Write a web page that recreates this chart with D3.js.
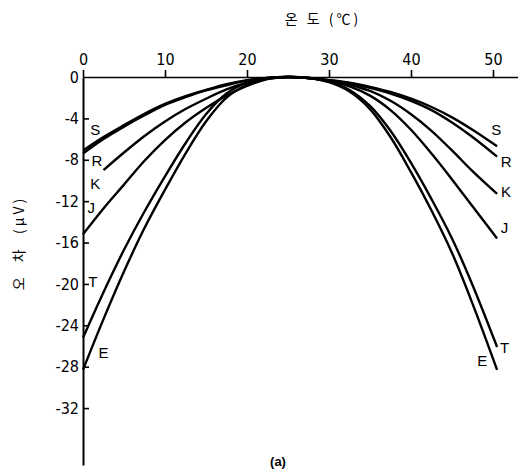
<!DOCTYPE html>
<html>
<head>
<meta charset="utf-8">
<script src="https://cdnjs.cloudflare.com/ajax/libs/d3/7.8.5/d3.min.js"></script>
<style>
body { margin: 0; background: #fff; }
.tick text { font-family: "Liberation Sans Narrow", "DejaVu Sans Condensed", "Liberation Sans", sans-serif; font-size: 16px; fill: #000; }
.lbl { font-family: "Liberation Sans", "DejaVu Sans", sans-serif; font-size: 15px; fill: #000; }
.kor { font-family: "Noto Sans CJK KR", sans-serif; font-size: 14px; fill: #000; }
</style>
</head>
<body>
<div id="main_div"></div>
<script>
// temperature (°C) and error (µV) for each thermocouple type
var temps = [0, 2.5, 5, 7.5, 10, 12.5, 15, 17.5, 20, 22.5, 25, 27.5, 30, 32.5, 35, 37.5, 40, 42.5, 45, 47.5, 50.5];
var err_S = [-7.1, -5.8, -4.65, -3.55, -2.6, -1.85, -1.25, -0.7, -0.3, -0.08, 0, -0.1, -0.3, -0.55, -0.95, -1.45, -2.1, -2.9, -3.9, -5.1, -6.7];
var err_R = [-7.4, -6.0, -4.8, -3.7, -2.7, -1.95, -1.3, -0.8, -0.35, -0.1, 0, -0.1, -0.3, -0.6, -1.05, -1.6, -2.3, -3.2, -4.4, -5.8, -7.7];
var err_K = [null, -9.0, -7.3, -5.7, -4.3, -3.1, -2.1, -1.2, -0.55, -0.15, 0, -0.1, -0.35, -0.75, -1.35, -2.3, -3.6, -5.2, -7.1, -9.1, -11.3];
var err_J = [-15.2, -12.7, -10.4, -8.1, -6.1, -4.4, -3.0, -1.8, -0.85, -0.2, 0, -0.1, -0.4, -0.9, -1.8, -3.2, -5.1, -7.4, -9.9, -12.5, -15.6];
var err_T = [-25.2, -20.8, -16.7, -13.0, -9.6, -6.4, -3.6, -1.6, -0.55, -0.1, 0, -0.1, -0.45, -1.25, -2.8, -5.2, -8.3, -11.8, -15.6, -20.1, -26.1];
var err_E = [-28.3, -23.4, -18.8, -14.6, -10.9, -7.4, -4.3, -2.0, -0.75, -0.15, 0, -0.1, -0.5, -1.4, -3.1, -5.8, -9.2, -12.9, -17.0, -21.9, -28.3];

var names = ["S", "R", "K", "J", "T", "E"];
var x_ticks = [0, 10, 20, 30, 40, 50];
var y_ticks = [0, -4, -8, -12, -16, -20, -24, -28, -32];

// label anchors in data units [temp, error]
var left_labels = [[1.5, -5.1], [1.7, -8.1], [1.5, -10.3], [1.0, -12.6], [1.2, -19.8], [2.5, -26.6]];
var right_labels = [[50.4, -5.1], [51.6, -8.2], [51.6, -11.1], [51.4, -14.6], [51.4, -26.2], [48.7, -27.4]];

var series = [err_S, err_R, err_K, err_J, err_T, err_E];

var x_scale = d3.scaleLinear().domain([0, 53]).range([83, 517.6]);
var y_scale = d3.scaleLinear().domain([0, -37.5]).range([77, 465]);

var svg = d3.select("#main_div").append("svg").attr("width", 526).attr("height", 469);

var g_x = svg.append("g").attr("transform", "translate(0," + y_scale(0) + ")")
    .call(d3.axisTop(x_scale).tickValues(x_ticks).tickSize(7).tickSizeOuter(0).tickPadding(5).tickFormat(function(d) { return String(d); }));
g_x.select(".domain").attr("stroke-width", 1.6);
g_x.selectAll(".tick line").attr("stroke-width", 1.6);

var g_y = svg.append("g").attr("transform", "translate(" + x_scale(0) + ",0)")
    .call(d3.axisLeft(y_scale).tickValues(y_ticks).tickSizeInner(-6).tickSizeOuter(0).tickPadding(4).tickFormat(function(d) { return String(d); }));
g_y.select(".domain").attr("stroke-width", 2);
g_y.selectAll(".tick line").attr("stroke-width", 1.6);
g_y.selectAll(".tick").filter(function(d) { return d == 0; }).select("line").remove();

var line = d3.line()
    .defined(function(d) { return d[1] != null; })
    .x(function(d) { return x_scale(d[0]); })
    .y(function(d) { return y_scale(d[1]); })
    .curve(d3.curveCatmullRom.alpha(0.5));

svg.append("g").selectAll("path").data(series).enter().append("path")
    .attr("d", function(s) { return line(temps.map(function(t, i) { return [t, s[i]]; })); })
    .attr("fill", "none")
    .attr("stroke", "#000")
    .attr("stroke-width", 2.4);

svg.append("g").selectAll("text").data(names.concat(names)).enter().append("text")
    .attr("class", "lbl")
    .attr("x", function(d, i) { var p = i < 6 ? left_labels[i] : right_labels[i - 6]; return x_scale(p[0]); })
    .attr("y", function(d, i) { var p = i < 6 ? left_labels[i] : right_labels[i - 6]; return y_scale(p[1]); })
    .attr("text-anchor", "middle")
    .attr("dy", "0.36em")
    .text(function(d) { return d; });

svg.append("text").attr("class", "kor")
    .attr("x", 323).attr("y", 24)
    .attr("text-anchor", "middle")
    .attr("letter-spacing", 3)
    .style("white-space", "pre")
    .text("온 도 (℃)");

svg.append("text").attr("class", "kor")
    .attr("transform", "translate(24,243) rotate(-90)")
    .attr("text-anchor", "middle")
    .attr("letter-spacing", 3)
    .style("white-space", "pre")
    .text("오  차  (μV)");

svg.append("text").attr("class", "lbl")
    .attr("x", 278).attr("y", 466)
    .attr("text-anchor", "middle")
    .style("font-size", "13px")
    .style("font-weight", "bold")
    .text("(a)");
</script>
</body>
</html>
